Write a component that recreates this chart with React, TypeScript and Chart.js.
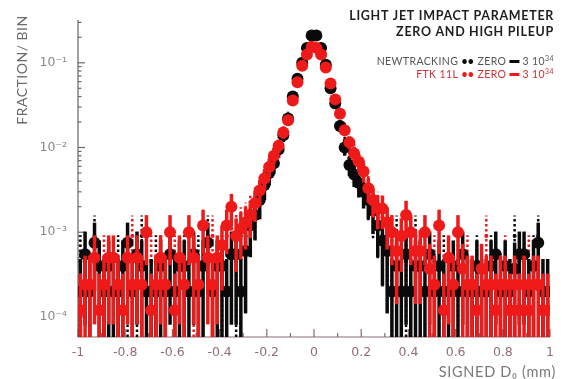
import React, { useEffect, useRef } from "react";
import { Chart, registerables } from "chart.js";

Chart.register(...registerables);

// ---------- data ----------
// 100 bins of width 0.02 mm between -1 and 1 (bin centres)
const BIN_CENTERS: number[] = Array.from({ length: 100 }, (_, i) => Math.round((-0.99 + 0.02 * i) * 100) / 100);

// NEWTRACKING, pileup 3e34 (black, big markers, solid bars)
const NT_HIGH: (number | null)[] = [
  2e-4, 5.5e-4, 2e-4, 7.5e-4, 4e-4, 2e-4, 4e-4, 2e-4, 2e-4, 4e-4,
  7.5e-4, 2e-4, 5.5e-4, 4e-4, 2e-4, 2e-4, 2e-4, 4e-4, 2e-4, 5.5e-4,
  2e-4, 4e-4, 4e-4, 2e-4, 5.5e-4, 2e-4, 4e-4, 7.5e-4, 2e-4, 4e-4,
  4e-4, 2e-4, 5.5e-4, 5.5e-4, 2e-4, 6e-4, 1.2e-3, 1.6e-3, 2.4e-3, 3.6e-3,
  5e-3, 6.5e-3, 9.5e-3, 1.4e-2, 2.2e-2, 4e-2, 6.5e-2, 0.1, 0.15, 0.21,
  0.21, 0.15, 0.095, 0.05, 0.033, 0.018, 0.01, 0.0062, 0.0048, 0.0038,
  3e-3, 2.4e-3, 1.8e-3, 1.2e-3, 8e-4, 6e-4, 2e-4, 4e-4, 2e-4, 5.5e-4,
  2e-4, 4e-4, 4e-4, 2e-4, 5.5e-4, 2e-4, 4e-4, 2e-4, 2e-4, 4e-4,
  2e-4, 5.5e-4, 2e-4, 2e-4, 4e-4, 2e-4, 2e-4, 4e-4, 5.5e-4, 2e-4,
  4e-4, 2e-4, 3.7e-4, 5.5e-4, 5.5e-4, 2e-4, 4e-4, 7.5e-4, 2e-4, 2e-4,
];

// NEWTRACKING, zero pileup (black, small dots, dotted bars)
const NT_ZERO: (number | null)[] = [
  4.5e-4, null, null, 9e-4, null, null, null, null, 4.5e-4, null,
  4.5e-4, null, 4.5e-4, 9e-4, null, null, 4.5e-4, 4.5e-4, null, null,
  null, null, 4.5e-4, null, null, 4.5e-4, null, 9e-4, null, null,
  4.5e-4, 9e-4, null, 4.5e-4, 9e-4, 9e-4, 1.4e-3, 1.8e-3, 2.6e-3, 3.8e-3,
  5.2e-3, 7e-3, 1e-2, 1.45e-2, 2.3e-2, 4e-2, 6.3e-2, 0.1, 0.15, 0.2,
  0.2, 0.15, 0.095, 0.055, 0.035, 0.02, 0.012, 0.0075, 0.0055, 0.0042,
  3.2e-3, 2.5e-3, 1.8e-3, 1.3e-3, 9e-4, 9e-4, 4.5e-4, 9e-4, null, 4.5e-4,
  null, 9e-4, null, null, null, null, null, 4.5e-4, null, null,
  4.5e-4, null, null, null, 4.5e-4, null, null, 4.5e-4, null, null,
  null, null, 9e-4, 4.5e-4, null, null, 4.5e-4, 9e-4, null, null,
];

// FTK 11L, pileup 3e34 (red, big markers, solid bars)
const FTK_HIGH: (number | null)[] = [
  1.2e-4, 2.4e-4, 2.4e-4, 5e-4, 1.2e-4, 2.4e-4, 5e-4, 5e-4, 2.4e-4, 1.2e-4,
  5e-4, 2.4e-4, 5e-4, 2.4e-4, 1e-3, 1.2e-4, 2.4e-4, 5e-4, 2.4e-4, 1e-3,
  1.2e-4, 5e-4, 2.4e-4, 1e-3, 5e-4, 2.4e-4, 1.2e-3, 5e-4, 2.4e-4, 5e-4,
  7e-4, 1.2e-3, 2e-3, 9e-4, 1.1e-3, 1.3e-3, 1.6e-3, 2.2e-3, 3.1e-3, 4.3e-3,
  5.9e-3, 8e-3, 1.05e-2, 1.5e-2, 2.1e-2, 3.6e-2, 5.9e-2, 9.2e-2, 0.125, 0.155,
  0.15, 0.125, 0.088, 0.057, 0.037, 0.025, 0.016, 0.0115, 0.0085, 0.0068,
  5.2e-3, 3.3e-3, 2.4e-3, 1.9e-3, 1.9e-3, 1.3e-3, 1e-3, 6e-4, 9e-4, 1.6e-3,
  1e-3, 6e-4, 6e-4, 1e-3, 3.7e-4, 2.4e-4, 1.2e-3, 1.2e-4, 5e-4, 2.4e-4,
  1e-3, 3.7e-4, 2.4e-4, 2.4e-4, 1.2e-4, 3.7e-4, 2.4e-4, 2.4e-4, 1.2e-4, 2.4e-4,
  2.4e-4, 1.2e-4, 2.4e-4, 1.2e-4, 2.4e-4, 1.2e-4, 2.4e-4, 2.4e-4, 1.2e-4, 1.2e-4,
];

// FTK 11L, zero pileup (red, small dots, dotted bars)
const FTK_ZERO: (number | null)[] = [
  null, 4.5e-4, null, null, null, 4.5e-4, null, null, null, null,
  null, 9e-4, null, null, null, 4.5e-4, null, null, null, null,
  4.5e-4, null, null, null, 4.5e-4, null, null, null, 9e-4, null,
  4.5e-4, 9e-4, 1.1e-3, 1e-3, 1.2e-3, 1.4e-3, 1.8e-3, 2.3e-3, 3.2e-3, 4.5e-3,
  6e-3, 8.3e-3, 1.1e-2, 1.55e-2, 2.2e-2, 3.5e-2, 5.7e-2, 9e-2, 0.12, 0.15,
  0.145, 0.12, 0.085, 0.058, 0.038, 0.026, 0.017, 0.012, 0.009, 0.007,
  5.4e-3, 3.5e-3, 2.6e-3, 2e-3, 1.5e-3, 1.1e-3, 9e-4, null, 4.5e-4, 9e-4,
  null, null, null, null, null, 4.5e-4, null, null, null, null,
  null, null, 4.5e-4, null, null, null, 9e-4, null, null, null,
  4.5e-4, null, null, null, null, 4.5e-4, null, null, null, null,
];

// weight of a single entry in each sample (for the statistical error bars)
const NT_HIGH_UNIT = 4e-4;
const FTK_HIGH_UNIT = 3.5e-4;
const ZERO_UNIT = 5e-4;

const Y_TICKS = [1e-4, 1e-3, 1e-2, 1e-1];
const Y_TICK_LABELS = ["10⁻⁴", "10⁻³", "10⁻²", "10⁻¹"];
const X_MIN = -1;
const X_MAX = 1;
const Y_MIN = 5.8e-5;
const Y_MAX = 0.32;

const TITLE_LINES = ["LIGHT JET IMPACT PARAMETER", "ZERO AND HIGH PILEUP"];
const LEGEND_NAMES = ["NEWTRACKING", "FTK 11L"];
const X_TITLE = "SIGNED D₀ (mm)";
const Y_TITLE = "FRACTION/ BIN";

// ---------- styles ----------
const BLACK = "#0a0a0a";
const RED = "#ee1a1a";

function toPoints(values: (number | null)[]) {
  const pts: { x: number; y: number }[] = [];
  values.forEach((v, i) => {
    if (v !== null && v > 0) pts.push({ x: BIN_CENTERS[i], y: v });
  });
  return pts;
}

const errorBarPlugin = {
  id: "errorBars",
  beforeDatasetDraw(chart: any, args: any) {
    const ds = chart.data.datasets[args.index];
    const meta = args.meta;
    const { ctx, chartArea } = chart;
    const ys = chart.scales.y;
    ctx.save();
    ctx.beginPath();
    ctx.rect(chartArea.left, chartArea.top, chartArea.right - chartArea.left, chartArea.bottom - chartArea.top);
    ctx.clip();
    ctx.strokeStyle = ds.errColor;
    ctx.lineWidth = ds.errWidth;
    ctx.setLineDash(ds.errDash);
    ctx.lineCap = "butt";
    meta.data.forEach((el: any, i: number) => {
      const p = ds.data[i];
      const err = Math.sqrt(p.y * ds.unit);
      const hi = ys.getPixelForValue(p.y + err);
      const lo = p.y - err > Y_MIN ? ys.getPixelForValue(p.y - err) : chartArea.bottom;
      ctx.beginPath();
      ctx.moveTo(el.x, Math.min(lo, chartArea.bottom));
      ctx.lineTo(el.x, hi);
      ctx.stroke();
    });
    ctx.restore();
  },
};

const axesPlugin = {
  id: "axesLines",
  beforeDatasetsDraw(chart: any) {
    const { ctx, chartArea } = chart;
    const xs = chart.scales.x;
    const ys = chart.scales.y;
    ctx.save();
    ctx.strokeStyle = "#666";
    ctx.lineWidth = 1.2;
    ctx.beginPath();
    ctx.moveTo(chartArea.left, chartArea.top);
    ctx.lineTo(chartArea.left, chartArea.bottom);
    ctx.stroke();
    for (let e = -5; e <= 0; e++) {
      for (let m = 1; m <= 9; m++) {
        const v = m * Math.pow(10, e);
        if (v < Y_MIN || v > Y_MAX) continue;
        const py = ys.getPixelForValue(v);
        const len = m === 1 ? 7 : 3.5;
        ctx.beginPath();
        ctx.moveTo(chartArea.left, py);
        ctx.lineTo(chartArea.left + len, py);
        ctx.stroke();
      }
    }
    ctx.strokeStyle = "#8a6a6e";
    ctx.beginPath();
    ctx.moveTo(chartArea.left, chartArea.bottom);
    ctx.lineTo(chartArea.right, chartArea.bottom);
    ctx.stroke();
    for (let k = -10; k <= 10; k++) {
      const v = k / 10;
      const px = xs.getPixelForValue(v);
      const len = k % 2 === 0 ? 8 : 4;
      ctx.beginPath();
      ctx.moveTo(px, chartArea.bottom);
      ctx.lineTo(px, chartArea.bottom - len);
      ctx.stroke();
    }
    ctx.restore();
  },
};

function drawLegendRow(ctx: any, right: number, y: number, name: string, textColor: string, markColor: string) {
  const font = "10.5px Lato";
  const supFont = "7px Lato";
  const pieces: any[] = [
    { t: name + " ", c: textColor, f: font },
    { t: "••", c: markColor, f: "bold 10.5px Lato" },
    { t: " ZERO ", c: textColor, f: font },
    { bar: 10, c: markColor },
    { t: " 3 10", c: textColor, f: font },
    { t: "34", c: textColor, f: supFont, sup: true },
  ];
  ctx.letterSpacing = "0.4px";
  let total = 0;
  pieces.forEach((p) => {
    if (p.bar) p.w = p.bar;
    else {
      ctx.font = p.f;
      p.w = ctx.measureText(p.t).width;
    }
    total += p.w;
  });
  let x = right - total;
  ctx.textAlign = "left";
  pieces.forEach((p) => {
    ctx.fillStyle = p.c;
    if (p.bar) {
      ctx.fillRect(x, y - 5, p.bar, 3);
    } else {
      ctx.font = p.f;
      ctx.fillText(p.t, x, p.sup ? y - 4 : y);
    }
    x += p.w;
  });
  ctx.letterSpacing = "0px";
}

const textPlugin = {
  id: "texts",
  afterDraw(chart: any) {
    const ctx = chart.ctx as any;
    ctx.save();
    ctx.textBaseline = "alphabetic";
    ctx.textAlign = "right";
    ctx.fillStyle = "#1e1e1e";
    ctx.font = "bold 12.5px Lato";
    ctx.letterSpacing = "0.7px";
    ctx.fillText(TITLE_LINES[0], 554, 20);
    ctx.fillText(TITLE_LINES[1], 554, 36);
    ctx.letterSpacing = "0px";
    drawLegendRow(ctx, 554, 65, LEGEND_NAMES[0], "#555555", BLACK);
    drawLegendRow(ctx, 554, 78, LEGEND_NAMES[1], "#cc3333", RED);
    ctx.textAlign = "right";
    ctx.fillStyle = "#7a7a7a";
    ctx.font = "14.5px Lato";
    ctx.letterSpacing = "0.7px";
    ctx.fillText(X_TITLE, 556, 377);
    ctx.translate(27, 70);
    ctx.rotate(-Math.PI / 2);
    ctx.textAlign = "center";
    ctx.fillStyle = "#6a6a6a";
    ctx.font = "14px Lato";
    ctx.letterSpacing = "0.5px";
    ctx.fillText(Y_TITLE, 0, 0);
    ctx.restore();
  },
};

export default function App() {
  const canvasRef = useRef<HTMLCanvasElement | null>(null);

  useEffect(() => {
    if (!canvasRef.current) return;
    const mk = (label: string, values: (number | null)[], color: string, radius: number, unit: number, dashed: boolean) => ({
      label,
      data: toPoints(values),
      showLine: false,
      pointRadius: radius,
      pointHoverRadius: radius,
      pointBackgroundColor: color,
      pointBorderColor: color,
      pointBorderWidth: 0,
      unit,
      errColor: color,
      errWidth: dashed ? 2.5 : 3.5,
      errDash: dashed ? [2.5, 2.5] : [],
    });

    // Chart.js paints the first dataset last (on top)
    const chart = new Chart(canvasRef.current, {
      type: "scatter",
      data: {
        datasets: [
          mk("FTK 11L 3e34", FTK_HIGH, RED, 6, FTK_HIGH_UNIT, false),
          mk("NEWTRACKING 3e34", NT_HIGH, BLACK, 6, NT_HIGH_UNIT, false),
          mk("FTK 11L ZERO", FTK_ZERO, RED, 2, ZERO_UNIT, true),
          mk("NEWTRACKING ZERO", NT_ZERO, BLACK, 2, ZERO_UNIT, true),
        ] as any,
      },
      options: {
        animation: false,
        responsive: false,
        events: [],
        layout: { padding: { top: 20, right: 9, left: 0, bottom: 0 } },
        plugins: { legend: { display: false }, tooltip: { enabled: false }, title: { display: false } },
        scales: {
          x: {
            type: "linear",
            min: X_MIN,
            max: X_MAX,
            grid: { display: false, drawTicks: false },
            border: { display: false },
            ticks: {
              stepSize: 0.2,
              autoSkip: false,
              maxRotation: 0,
              padding: 8,
              color: "#936d75",
              font: { family: "DejaVu Sans", size: 12.5 },
              callback: (v: any) => String(Number(Number(v).toFixed(1))),
            },
            afterFit: (s: any) => {
              s.height = 42;
            },
          },
          y: {
            type: "logarithmic",
            min: Y_MIN,
            max: Y_MAX,
            grid: { display: false, drawTicks: false },
            border: { display: false },
            afterBuildTicks: (s: any) => {
              s.ticks = Y_TICKS.map((v) => ({ value: v, major: true }));
            },
            ticks: {
              padding: 11,
              color: "#8a8a8a",
              font: { family: "DejaVu Sans", size: 12.5 },
              callback: (v: any) => {
                const idx = Y_TICKS.findIndex((t) => Math.abs(t - Number(v)) / t < 1e-6);
                return idx >= 0 ? Y_TICK_LABELS[idx] : "";
              },
            },
            afterFit: (s: any) => {
              s.width = 78;
            },
          },
        },
      },
      plugins: [axesPlugin, errorBarPlugin, textPlugin],
    });
    return () => chart.destroy();
  }, []);

  return (
    <div style={{ position: "absolute", left: 0, top: 0, width: 562, height: 379, background: "#fff" }}>
      <canvas ref={canvasRef} width={562} height={379} style={{ display: "block" }} />
    </div>
  );
}
